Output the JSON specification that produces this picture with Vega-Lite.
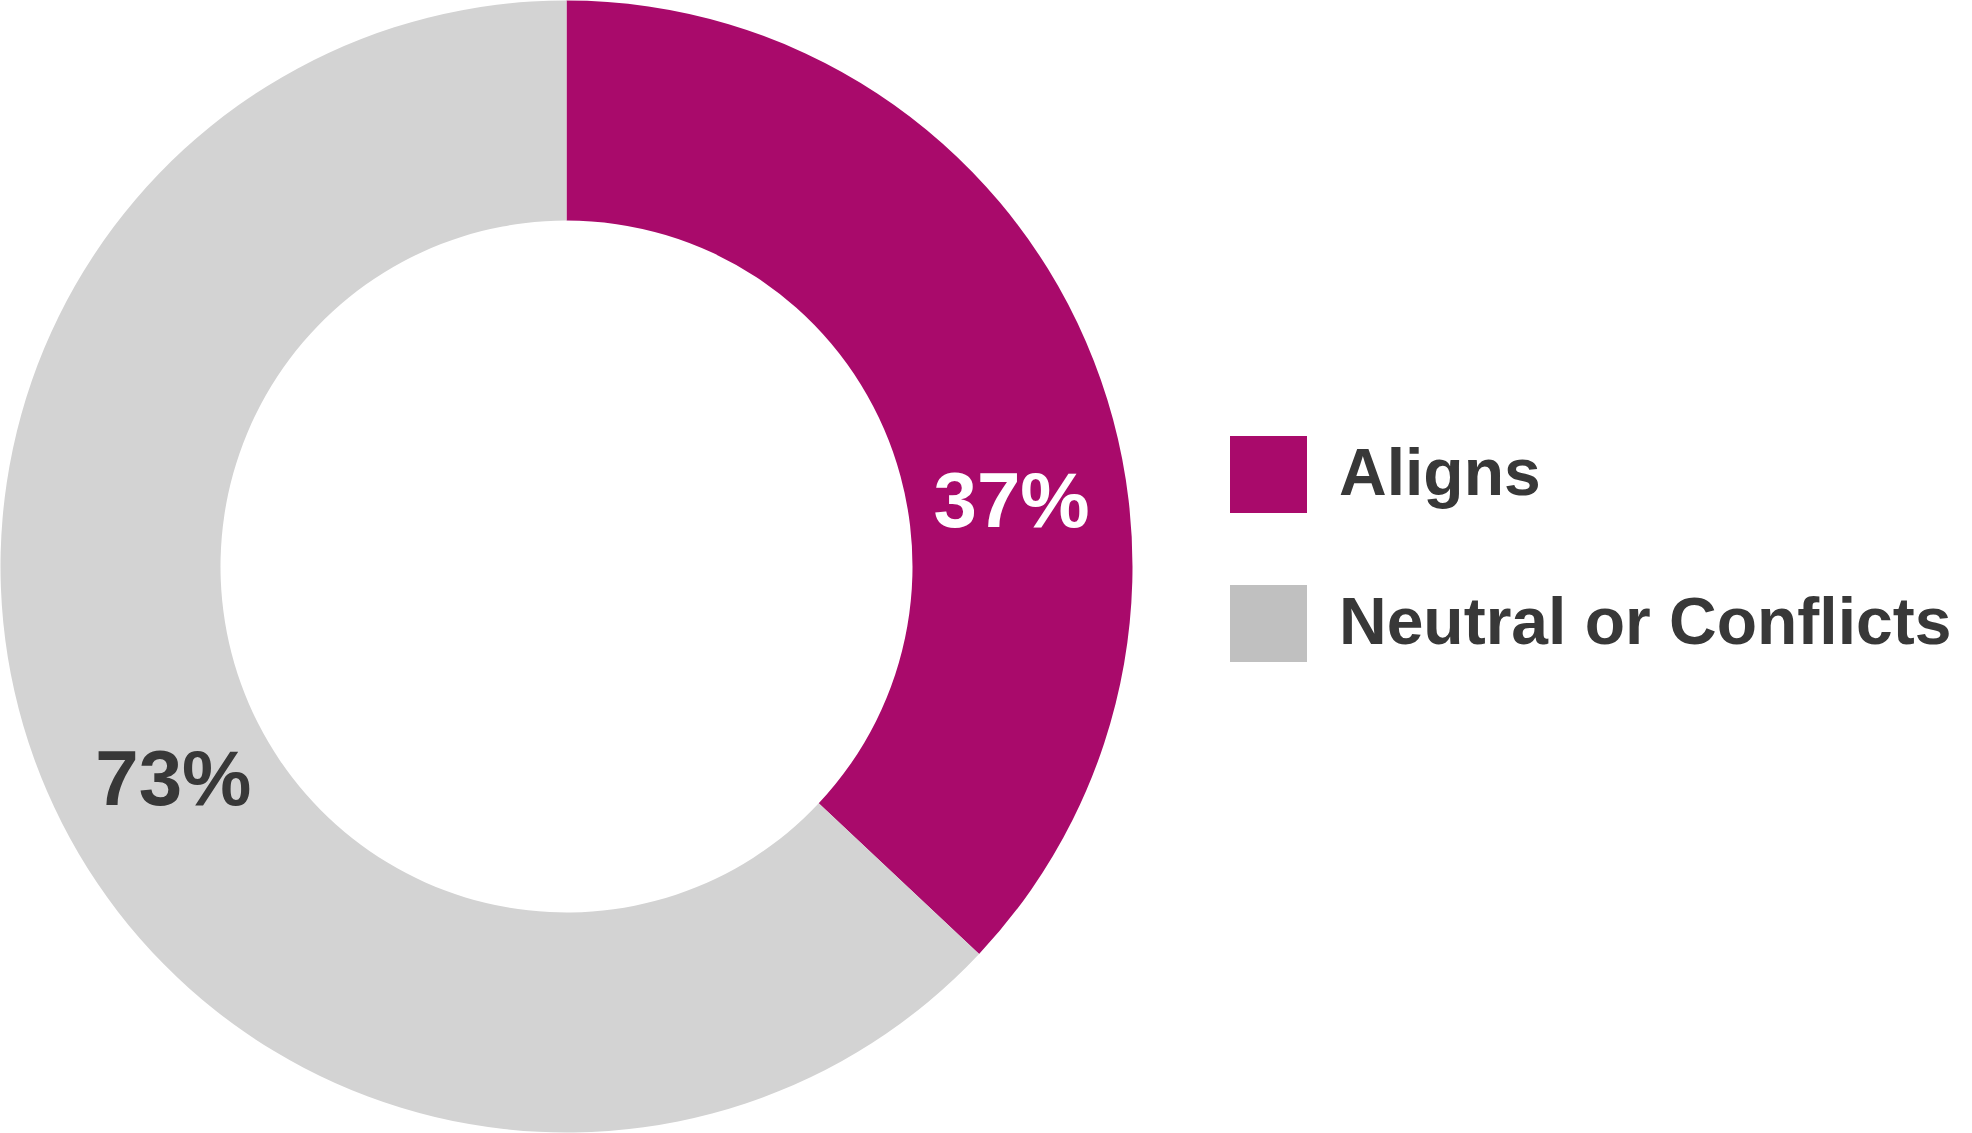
{
  "$schema": "https://vega.github.io/schema/vega-lite/v6.json",
  "width": 1133,
  "height": 1133,
  "padding": 0,
  "background": "white",
  "config": {"view": {"stroke": null}},
  "data": {
    "values": [
      {"category": "Aligns", "value": 37, "label": "37%", "order": 1},
      {"category": "Neutral or Conflicts", "value": 63, "label": "73%", "order": 2}
    ]
  },
  "layer": [
    {
      "mark": {"type": "arc", "outerRadius": 566, "innerRadius": 346, "strokeWidth": 0},
      "encoding": {
        "theta": {"field": "value", "type": "quantitative", "stack": true},
        "order": {"field": "order", "type": "quantitative"},
        "fill": {
          "field": "category",
          "type": "nominal",
          "scale": {"range": ["#A90A6B", "#D3D3D3"]},
          "legend": null
        }
      }
    },
    {
      "mark": {"type": "point", "filled": true, "size": 0, "opacity": 1},
      "encoding": {
        "color": {
          "field": "category",
          "type": "nominal",
          "scale": {"domain": ["Aligns", "Neutral or Conflicts"], "range": ["#A90A6B", "#C0C0C0"]},
          "legend": {
            "title": null,
            "orient": "none",
            "legendX": 1230,
            "legendY": 436,
            "padding": 0,
            "symbolType": "square",
            "symbolSize": 5929,
            "symbolStrokeWidth": 0,
            "symbolOpacity": 1,
            "labelFont": "Liberation Sans",
            "labelFontWeight": "bold",
            "labelFontSize": 66,
            "labelColor": "#383838",
            "labelOffset": 32,
            "labelLimit": 1000,
            "rowPadding": 72
          }
        }
      }
    },
    {
      "mark": {"type": "text", "radius": 449, "dx": 33, "dy": 116, "font": "Liberation Sans", "fontWeight": "bold", "fontSize": 78, "align": "center", "baseline": "middle", "color": "#FFFFFF"},
      "encoding": {
        "theta": {"field": "value", "type": "quantitative", "stack": true},
        "order": {"field": "order", "type": "quantitative"},
        "text": {"condition": {"test": "datum.category === 'Aligns'", "field": "label"}, "value": ""}
      }
    },
    {
      "mark": {"type": "text", "radius": 448, "dx": 18, "dy": 38, "font": "Liberation Sans", "fontWeight": "bold", "fontSize": 78, "align": "center", "baseline": "middle", "color": "#383838"},
      "encoding": {
        "theta": {"field": "value", "type": "quantitative", "stack": true},
        "order": {"field": "order", "type": "quantitative"},
        "text": {"condition": {"test": "datum.category !== 'Aligns'", "field": "label"}, "value": ""}
      }
    }
  ]
}
